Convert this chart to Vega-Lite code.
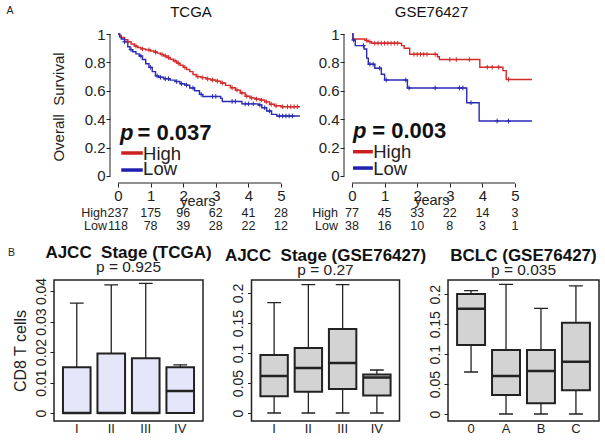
{
"$schema": "https://vega.github.io/schema/vega-lite/v6.json",
"background": "white",
"padding": {"left": 6, "top": 4, "right": 2, "bottom": 2},
"spacing": -16,
"config": {
  "font": "Liberation Sans",
  "view": {"stroke": "#222", "strokeWidth": 1.5},
  "axis": {"labelFont": "Liberation Sans", "titleFont": "Liberation Sans", "labelColor": "#222", "titleColor": "#222", "tickColor": "#222", "grid": false, "titleFontWeight": "normal", "labelOverlap": false},
  "title": {"font": "Liberation Sans", "color": "#111", "subtitleFont": "Liberation Sans", "subtitleColor": "#222"},
  "text": {"font": "Liberation Sans", "color": "#222"}
},
"datasets": {
  "km": [
    {"d":"T","g":"High","t":0,"s":1},{"d":"T","g":"High","t":0.05,"s":0.99},{"d":"T","g":"High","t":0.1,"s":0.975},{"d":"T","g":"High","t":0.2,"s":0.96},{"d":"T","g":"High","t":0.3,"s":0.945},{"d":"T","g":"High","t":0.4,"s":0.93},{"d":"T","g":"High","t":0.5,"s":0.915},{"d":"T","g":"High","t":0.6,"s":0.905},{"d":"T","g":"High","t":0.7,"s":0.895},{"d":"T","g":"High","t":0.85,"s":0.888},{"d":"T","g":"High","t":1.0,"s":0.88},{"d":"T","g":"High","t":1.1,"s":0.873},{"d":"T","g":"High","t":1.2,"s":0.865},{"d":"T","g":"High","t":1.3,"s":0.856},{"d":"T","g":"High","t":1.4,"s":0.846},{"d":"T","g":"High","t":1.5,"s":0.835},{"d":"T","g":"High","t":1.6,"s":0.822},{"d":"T","g":"High","t":1.7,"s":0.81},{"d":"T","g":"High","t":1.8,"s":0.795},{"d":"T","g":"High","t":1.9,"s":0.78},{"d":"T","g":"High","t":2.0,"s":0.765},{"d":"T","g":"High","t":2.1,"s":0.75},{"d":"T","g":"High","t":2.2,"s":0.735},{"d":"T","g":"High","t":2.3,"s":0.715},{"d":"T","g":"High","t":2.4,"s":0.7},{"d":"T","g":"High","t":2.55,"s":0.693},{"d":"T","g":"High","t":2.7,"s":0.684},{"d":"T","g":"High","t":2.85,"s":0.676},{"d":"T","g":"High","t":3.0,"s":0.668},{"d":"T","g":"High","t":3.15,"s":0.655},{"d":"T","g":"High","t":3.3,"s":0.638},{"d":"T","g":"High","t":3.45,"s":0.622},{"d":"T","g":"High","t":3.6,"s":0.605},{"d":"T","g":"High","t":3.75,"s":0.585},{"d":"T","g":"High","t":3.9,"s":0.562},{"d":"T","g":"High","t":4.05,"s":0.55},{"d":"T","g":"High","t":4.2,"s":0.542},{"d":"T","g":"High","t":4.35,"s":0.535},{"d":"T","g":"High","t":4.5,"s":0.522},{"d":"T","g":"High","t":4.65,"s":0.505},{"d":"T","g":"High","t":4.8,"s":0.495},{"d":"T","g":"High","t":5.0,"s":0.488},{"d":"T","g":"High","t":5.58,"s":0.488},
    {"d":"T","g":"Low","t":0,"s":1},{"d":"T","g":"Low","t":0.05,"s":0.98},{"d":"T","g":"Low","t":0.1,"s":0.965},{"d":"T","g":"Low","t":0.2,"s":0.945},{"d":"T","g":"Low","t":0.3,"s":0.91},{"d":"T","g":"Low","t":0.37,"s":0.89},{"d":"T","g":"Low","t":0.45,"s":0.875},{"d":"T","g":"Low","t":0.55,"s":0.86},{"d":"T","g":"Low","t":0.65,"s":0.845},{"d":"T","g":"Low","t":0.75,"s":0.82},{"d":"T","g":"Low","t":0.85,"s":0.79},{"d":"T","g":"Low","t":0.95,"s":0.765},{"d":"T","g":"Low","t":1.05,"s":0.735},{"d":"T","g":"Low","t":1.15,"s":0.705},{"d":"T","g":"Low","t":1.25,"s":0.695},{"d":"T","g":"Low","t":1.4,"s":0.685},{"d":"T","g":"Low","t":1.6,"s":0.675},{"d":"T","g":"Low","t":1.75,"s":0.665},{"d":"T","g":"Low","t":1.9,"s":0.65},{"d":"T","g":"Low","t":2.05,"s":0.64},{"d":"T","g":"Low","t":2.2,"s":0.62},{"d":"T","g":"Low","t":2.35,"s":0.6},{"d":"T","g":"Low","t":2.5,"s":0.575},{"d":"T","g":"Low","t":2.6,"s":0.56},{"d":"T","g":"Low","t":3.15,"s":0.547},{"d":"T","g":"Low","t":3.2,"s":0.525},{"d":"T","g":"Low","t":3.8,"s":0.508},{"d":"T","g":"Low","t":4.3,"s":0.5},{"d":"T","g":"Low","t":4.41,"s":0.481},{"d":"T","g":"Low","t":4.56,"s":0.458},{"d":"T","g":"Low","t":4.71,"s":0.434},{"d":"T","g":"Low","t":4.87,"s":0.423},{"d":"T","g":"Low","t":5.58,"s":0.423},
    {"d":"G","g":"High","t":0,"s":1},{"d":"G","g":"High","t":0.03,"s":0.965},{"d":"G","g":"High","t":0.4,"s":0.955},{"d":"G","g":"High","t":0.49,"s":0.946},{"d":"G","g":"High","t":0.6,"s":0.935},{"d":"G","g":"High","t":1.52,"s":0.918},{"d":"G","g":"High","t":1.6,"s":0.9},{"d":"G","g":"High","t":1.77,"s":0.857},{"d":"G","g":"High","t":2.62,"s":0.84},{"d":"G","g":"High","t":2.68,"s":0.82},{"d":"G","g":"High","t":3.92,"s":0.766},{"d":"G","g":"High","t":4.63,"s":0.742},{"d":"G","g":"High","t":4.73,"s":0.68},{"d":"G","g":"High","t":5.52,"s":0.68},
    {"d":"G","g":"Low","t":0,"s":1},{"d":"G","g":"Low","t":0.03,"s":0.958},{"d":"G","g":"Low","t":0.1,"s":0.918},{"d":"G","g":"Low","t":0.37,"s":0.894},{"d":"G","g":"Low","t":0.45,"s":0.83},{"d":"G","g":"Low","t":0.5,"s":0.787},{"d":"G","g":"Low","t":0.7,"s":0.759},{"d":"G","g":"Low","t":0.9,"s":0.717},{"d":"G","g":"Low","t":1.0,"s":0.676},{"d":"G","g":"Low","t":1.7,"s":0.62},{"d":"G","g":"Low","t":3.52,"s":0.516},{"d":"G","g":"Low","t":3.9,"s":0.387},{"d":"G","g":"Low","t":5.52,"s":0.387}
  ],
  "cens": [
    {"d":"T","g":"High","t":0.3,"s":0.945},{"d":"T","g":"High","t":0.55,"s":0.915},{"d":"T","g":"High","t":0.75,"s":0.895},{"d":"T","g":"High","t":0.95,"s":0.888},{"d":"T","g":"High","t":1.15,"s":0.873},{"d":"T","g":"High","t":1.35,"s":0.856},{"d":"T","g":"High","t":1.45,"s":0.846},{"d":"T","g":"High","t":1.55,"s":0.835},{"d":"T","g":"High","t":1.75,"s":0.81},{"d":"T","g":"High","t":1.85,"s":0.795},{"d":"T","g":"High","t":2.05,"s":0.765},{"d":"T","g":"High","t":2.45,"s":0.7},{"d":"T","g":"High","t":2.6,"s":0.693},{"d":"T","g":"High","t":2.75,"s":0.684},{"d":"T","g":"High","t":2.9,"s":0.676},{"d":"T","g":"High","t":3.05,"s":0.668},{"d":"T","g":"High","t":3.2,"s":0.655},{"d":"T","g":"High","t":3.5,"s":0.622},{"d":"T","g":"High","t":3.65,"s":0.605},{"d":"T","g":"High","t":3.8,"s":0.585},{"d":"T","g":"High","t":3.95,"s":0.562},{"d":"T","g":"High","t":4.1,"s":0.55},{"d":"T","g":"High","t":4.25,"s":0.542},{"d":"T","g":"High","t":4.4,"s":0.535},{"d":"T","g":"High","t":4.55,"s":0.522},{"d":"T","g":"High","t":4.7,"s":0.505},{"d":"T","g":"High","t":4.85,"s":0.495},{"d":"T","g":"High","t":5.05,"s":0.488},{"d":"T","g":"High","t":5.2,"s":0.488},{"d":"T","g":"High","t":5.3,"s":0.488},{"d":"T","g":"High","t":5.4,"s":0.488},{"d":"T","g":"High","t":5.5,"s":0.488},
    {"d":"T","g":"Low","t":0.2,"s":0.945},{"d":"T","g":"Low","t":0.4,"s":0.89},{"d":"T","g":"Low","t":0.7,"s":0.845},{"d":"T","g":"Low","t":1.0,"s":0.765},{"d":"T","g":"Low","t":1.2,"s":0.705},{"d":"T","g":"Low","t":1.3,"s":0.695},{"d":"T","g":"Low","t":1.45,"s":0.685},{"d":"T","g":"Low","t":1.55,"s":0.685},{"d":"T","g":"Low","t":1.8,"s":0.665},{"d":"T","g":"Low","t":1.95,"s":0.65},{"d":"T","g":"Low","t":2.1,"s":0.64},{"d":"T","g":"Low","t":2.3,"s":0.62},{"d":"T","g":"Low","t":2.55,"s":0.575},{"d":"T","g":"Low","t":2.9,"s":0.56},{"d":"T","g":"Low","t":3.0,"s":0.56},{"d":"T","g":"Low","t":3.5,"s":0.525},{"d":"T","g":"Low","t":3.6,"s":0.525},{"d":"T","g":"Low","t":3.9,"s":0.508},{"d":"T","g":"Low","t":4.0,"s":0.508},{"d":"T","g":"Low","t":4.15,"s":0.508},{"d":"T","g":"Low","t":4.35,"s":0.5},{"d":"T","g":"Low","t":4.5,"s":0.481},{"d":"T","g":"Low","t":4.65,"s":0.458},{"d":"T","g":"Low","t":4.95,"s":0.423},{"d":"T","g":"Low","t":5.05,"s":0.423},{"d":"T","g":"Low","t":5.15,"s":0.423},{"d":"T","g":"Low","t":5.25,"s":0.423},{"d":"T","g":"Low","t":5.35,"s":0.423},
    {"d":"G","g":"High","t":0.45,"s":0.955},{"d":"G","g":"High","t":0.55,"s":0.946},{"d":"G","g":"High","t":0.7,"s":0.935},{"d":"G","g":"High","t":0.8,"s":0.935},{"d":"G","g":"High","t":0.9,"s":0.935},{"d":"G","g":"High","t":1.0,"s":0.935},{"d":"G","g":"High","t":1.1,"s":0.935},{"d":"G","g":"High","t":1.2,"s":0.935},{"d":"G","g":"High","t":1.3,"s":0.935},{"d":"G","g":"High","t":1.4,"s":0.935},{"d":"G","g":"High","t":1.9,"s":0.857},{"d":"G","g":"High","t":2.0,"s":0.857},{"d":"G","g":"High","t":2.1,"s":0.857},{"d":"G","g":"High","t":2.2,"s":0.857},{"d":"G","g":"High","t":2.3,"s":0.857},{"d":"G","g":"High","t":2.55,"s":0.857},{"d":"G","g":"High","t":3.0,"s":0.82},{"d":"G","g":"High","t":3.2,"s":0.82},{"d":"G","g":"High","t":3.6,"s":0.82},{"d":"G","g":"High","t":4.15,"s":0.766},{"d":"G","g":"High","t":4.3,"s":0.766},{"d":"G","g":"High","t":4.5,"s":0.766},{"d":"G","g":"High","t":4.8,"s":0.68},
    {"d":"G","g":"Low","t":0.05,"s":0.958},{"d":"G","g":"Low","t":0.35,"s":0.918},{"d":"G","g":"Low","t":0.55,"s":0.787},{"d":"G","g":"Low","t":0.65,"s":0.787},{"d":"G","g":"Low","t":0.85,"s":0.759},{"d":"G","g":"Low","t":1.05,"s":0.676},{"d":"G","g":"Low","t":1.65,"s":0.676},{"d":"G","g":"Low","t":1.75,"s":0.62},{"d":"G","g":"Low","t":2.55,"s":0.62},{"d":"G","g":"Low","t":3.3,"s":0.62},{"d":"G","g":"Low","t":3.4,"s":0.62},{"d":"G","g":"Low","t":3.65,"s":0.516},{"d":"G","g":"Low","t":4.45,"s":0.387},{"d":"G","g":"Low","t":4.8,"s":0.387}
  ],
  "risk": [
    {"d":"T","g":"High","t":0,"n":237},{"d":"T","g":"High","t":1,"n":175},{"d":"T","g":"High","t":2,"n":96},{"d":"T","g":"High","t":3,"n":62},{"d":"T","g":"High","t":4,"n":41},{"d":"T","g":"High","t":5,"n":28},
    {"d":"T","g":"Low","t":0,"n":118},{"d":"T","g":"Low","t":1,"n":78},{"d":"T","g":"Low","t":2,"n":39},{"d":"T","g":"Low","t":3,"n":28},{"d":"T","g":"Low","t":4,"n":22},{"d":"T","g":"Low","t":5,"n":12},
    {"d":"G","g":"High","t":0,"n":77},{"d":"G","g":"High","t":1,"n":45},{"d":"G","g":"High","t":2,"n":33},{"d":"G","g":"High","t":3,"n":22},{"d":"G","g":"High","t":4,"n":14},{"d":"G","g":"High","t":5,"n":3},
    {"d":"G","g":"Low","t":0,"n":38},{"d":"G","g":"Low","t":1,"n":16},{"d":"G","g":"Low","t":2,"n":10},{"d":"G","g":"Low","t":3,"n":8},{"d":"G","g":"Low","t":4,"n":3},{"d":"G","g":"Low","t":5,"n":1}
  ],
  "b1": [
    {"k":"I","lo":0,"q1":0,"med":0,"q3":0.015,"hi":0.036},
    {"k":"II","lo":0,"q1":0,"med":0,"q3":0.0195,"hi":0.042},
    {"k":"III","lo":0,"q1":0,"med":0,"q3":0.018,"hi":0.0425},
    {"k":"IV","lo":0,"q1":0,"med":0.0072,"q3":0.015,"hi":0.0158}
  ],
  "b2": [
    {"k":"I","lo":0,"q1":0.0278,"med":0.0617,"q3":0.0967,"hi":0.184},
    {"k":"II","lo":0,"q1":0.0356,"med":0.075,"q3":0.1083,"hi":0.214},
    {"k":"III","lo":0,"q1":0.04,"med":0.0833,"q3":0.14,"hi":0.214},
    {"k":"IV","lo":0,"q1":0.0294,"med":0.0594,"q3":0.0644,"hi":0.0717}
  ],
  "b3": [
    {"k":"0","lo":0.0702,"q1":0.1153,"med":0.176,"q3":0.2005,"hi":0.2061},
    {"k":"A","lo":0,"q1":0.0318,"med":0.0635,"q3":0.107,"hi":0.2167},
    {"k":"B","lo":0,"q1":0.0178,"med":0.0719,"q3":0.107,"hi":0.1766},
    {"k":"C","lo":0,"q1":0.0396,"med":0.0875,"q3":0.1526,"hi":0.214}
  ]
},
"vconcat": [
 {
  "bounds": "flush",
  "spacing": 43,
  "hconcat": [
   {
    "width": 247, "height": 153,
    "view": {"stroke": null},
    "layer": [
     {
      "data": {"name": "km"},
      "transform": [{"filter": "datum.d === 'T'"}],
      "mark": {"type": "line", "interpolate": "step-after", "strokeWidth": 1.4},
      "encoding": {
        "x": {"field": "t", "type": "quantitative", "scale": {"domain": [-1.963, 5.613], "nice": false, "zero": false},
              "axis": {"values": [0,1,2,3,4,5], "tickCount": 20, "format": "~g", "labelOverlap": false, "domain": false, "tickSize": 4, "labelPadding": 1, "labelFontSize": 15, "title": null}},
        "y": {"field": "s", "type": "quantitative", "scale": {"domain": [-0.0493, 1.0282], "nice": false, "zero": false},
              "axis": {"values": [0,0.2,0.4,0.6,0.8,1], "tickCount": 20, "labelOverlap": false, "format": "~g", "domain": false, "tickSize": 4, "labelPadding": 1, "labelFontSize": 15, "offset": -56, "title": "Overall\u00a0 Survival", "titleFontSize": 15, "titlePadding": 18}},
        "color": {"field": "g", "type": "nominal", "scale": {"domain": ["High","Low"], "range": ["#d42a2a","#2a2ab4"]}, "legend": null}
      }
     },
     {
      "data": {"name": "cens"},
      "transform": [{"filter": "datum.d === 'T'"}],
      "mark": {"type": "point", "shape": "M0,-1V1M-1,0H1", "filled": false, "size": 22, "strokeWidth": 1, "opacity": 1},
      "encoding": {"x": {"field": "t", "type": "quantitative"}, "y": {"field": "s", "type": "quantitative"}, "color": {"field": "g", "type": "nominal", "legend": null}}
     },
     {"data": {"values": [{}]}, "mark": {"type": "rule", "color": "#222", "strokeWidth": 1}, "encoding": {"x": {"datum": -0.245}, "y": {"datum": 0}, "y2": {"datum": 1}}},
     {"data": {"values": [{}]}, "mark": {"type": "rule", "color": "#222", "strokeWidth": 1}, "encoding": {"x": {"datum": 0}, "x2": {"datum": 5}, "y": {"datum": -0.0493}}},
     {"data": {"values": [{}]}, "mark": {"type": "rule", "color": "#cc2020", "strokeWidth": 3.5}, "encoding": {"x": {"datum": 0.1}, "x2": {"datum": 0.76}, "y": {"datum": 0.162}}},
     {"data": {"values": [{}]}, "mark": {"type": "rule", "color": "#2020b0", "strokeWidth": 3.5}, "encoding": {"x": {"datum": 0.1}, "x2": {"datum": 0.76}, "y": {"datum": 0.042}}},
     {"data": {"values": [{}]}, "mark": {"type": "text", "text": "High", "fontSize": 18.5, "align": "left", "baseline": "alphabetic"}, "encoding": {"x": {"datum": 0.77}, "y": {"datum": 0.113}}},
     {"data": {"values": [{}]}, "mark": {"type": "text", "text": "Low", "fontSize": 18.5, "align": "left", "baseline": "alphabetic"}, "encoding": {"x": {"datum": 0.77}, "y": {"datum": 0.007}}},
     {"data": {"values": [{}]}, "mark": {"type": "text", "text": "p", "fontSize": 22, "fontWeight": "bold", "fontStyle": "italic", "align": "left", "baseline": "alphabetic", "color": "#111"}, "encoding": {"x": {"datum": 0.06}, "y": {"datum": 0.255}}},
     {"data": {"values": [{}]}, "mark": {"type": "text", "text": "= 0.037", "fontSize": 22, "fontWeight": "bold", "align": "left", "baseline": "alphabetic", "color": "#111"}, "encoding": {"x": {"datum": 0.6}, "y": {"datum": 0.255}}},
     {"data": {"values": [{}]}, "mark": {"type": "text", "text": "TCGA", "fontSize": 15, "align": "center", "baseline": "alphabetic", "color": "#111"}, "encoding": {"x": {"datum": 2.24}, "y": {"datum": 1.12}}},
     {"data": {"values": [{}]}, "mark": {"type": "text", "text": "years", "fontSize": 14.5, "align": "center", "baseline": "middle"}, "encoding": {"x": {"datum": 2.45}, "y": {"datum": -0.183}}},
     {"data": {"values": [{}]}, "mark": {"type": "text", "text": "High", "fontSize": 12.5, "align": "right", "baseline": "middle"}, "encoding": {"x": {"datum": -0.34}, "y": {"datum": -0.261}}},
     {"data": {"values": [{}]}, "mark": {"type": "text", "text": "Low", "fontSize": 12.5, "align": "right", "baseline": "middle"}, "encoding": {"x": {"datum": -0.34}, "y": {"datum": -0.352}}},
     {"data": {"name": "risk"}, "transform": [{"filter": "datum.d === 'T' && datum.g === 'High'"}], "mark": {"type": "text", "fontSize": 12.5, "align": "center", "baseline": "middle"}, "encoding": {"x": {"field": "t", "type": "quantitative"}, "y": {"datum": -0.261}, "text": {"field": "n"}}},
     {"data": {"name": "risk"}, "transform": [{"filter": "datum.d === 'T' && datum.g === 'Low'"}], "mark": {"type": "text", "fontSize": 12.5, "align": "center", "baseline": "middle"}, "encoding": {"x": {"field": "t", "type": "quantitative"}, "y": {"datum": -0.352}, "text": {"field": "n"}}},
     {"data": {"values": [{}]}, "mark": {"type": "text", "text": "A", "fontSize": 10.5, "align": "center", "baseline": "alphabetic"}, "encoding": {"x": {"datum": -3.313}, "y": {"datum": 1.144}}},
     {"data": {"values": [{}]}, "mark": {"type": "text", "text": "B", "fontSize": 10.5, "align": "center", "baseline": "alphabetic"}, "encoding": {"x": {"datum": -3.267}, "y": {"datum": -0.563}}}
    ]
   },
   {
    "width": 191, "height": 153,
    "view": {"stroke": null},
    "layer": [
     {
      "data": {"name": "km"},
      "transform": [{"filter": "datum.d === 'G'"}],
      "mark": {"type": "line", "interpolate": "step-after", "strokeWidth": 1.4},
      "encoding": {
        "x": {"field": "t", "type": "quantitative", "scale": {"domain": [-0.245, 5.613], "nice": false, "zero": false},
              "axis": {"values": [0,1,2,3,4,5], "tickCount": 20, "format": "~g", "labelOverlap": false, "domain": false, "tickSize": 4, "labelPadding": 1, "labelFontSize": 15, "title": null}},
        "y": {"field": "s", "type": "quantitative", "scale": {"domain": [-0.0493, 1.0282], "nice": false, "zero": false},
              "axis": {"values": [0,0.2,0.4,0.6,0.8,1], "tickCount": 20, "labelOverlap": false, "format": "~g", "domain": false, "tickSize": 4, "labelPadding": 1, "labelFontSize": 15, "title": null}},
        "color": {"field": "g", "type": "nominal", "scale": {"domain": ["High","Low"], "range": ["#d42a2a","#2a2ab4"]}, "legend": null}
      }
     },
     {
      "data": {"name": "cens"},
      "transform": [{"filter": "datum.d === 'G'"}],
      "mark": {"type": "point", "shape": "M0,-1V1M-1,0H1", "filled": false, "size": 22, "strokeWidth": 1, "opacity": 1},
      "encoding": {"x": {"field": "t", "type": "quantitative"}, "y": {"field": "s", "type": "quantitative"}, "color": {"field": "g", "type": "nominal", "legend": null}}
     },
     {"data": {"values": [{}]}, "mark": {"type": "rule", "color": "#222", "strokeWidth": 1}, "encoding": {"x": {"datum": -0.245}, "y": {"datum": 0}, "y2": {"datum": 1}}},
     {"data": {"values": [{}]}, "mark": {"type": "rule", "color": "#222", "strokeWidth": 1}, "encoding": {"x": {"datum": 0}, "x2": {"datum": 5}, "y": {"datum": -0.0493}}},
     {"data": {"values": [{}]}, "mark": {"type": "rule", "color": "#cc2020", "strokeWidth": 3.5}, "encoding": {"x": {"datum": 0.03}, "x2": {"datum": 0.64}, "y": {"datum": 0.171}}},
     {"data": {"values": [{}]}, "mark": {"type": "rule", "color": "#2020b0", "strokeWidth": 3.5}, "encoding": {"x": {"datum": 0.03}, "x2": {"datum": 0.64}, "y": {"datum": 0.056}}},
     {"data": {"values": [{}]}, "mark": {"type": "text", "text": "High", "fontSize": 18.5, "align": "left", "baseline": "alphabetic"}, "encoding": {"x": {"datum": 0.65}, "y": {"datum": 0.127}}},
     {"data": {"values": [{}]}, "mark": {"type": "text", "text": "Low", "fontSize": 18.5, "align": "left", "baseline": "alphabetic"}, "encoding": {"x": {"datum": 0.65}, "y": {"datum": 0.007}}},
     {"data": {"values": [{}]}, "mark": {"type": "text", "text": "p", "fontSize": 22, "fontWeight": "bold", "fontStyle": "italic", "align": "left", "baseline": "alphabetic", "color": "#111"}, "encoding": {"x": {"datum": 0.03}, "y": {"datum": 0.265}}},
     {"data": {"values": [{}]}, "mark": {"type": "text", "text": "= 0.003", "fontSize": 22, "fontWeight": "bold", "align": "left", "baseline": "alphabetic", "color": "#111"}, "encoding": {"x": {"datum": 0.62}, "y": {"datum": 0.265}}},
     {"data": {"values": [{}]}, "mark": {"type": "text", "text": "GSE76427", "fontSize": 15, "align": "center", "baseline": "alphabetic", "color": "#111"}, "encoding": {"x": {"datum": 2.44}, "y": {"datum": 1.12}}},
     {"data": {"values": [{}]}, "mark": {"type": "text", "text": "years", "fontSize": 14.5, "align": "center", "baseline": "middle"}, "encoding": {"x": {"datum": 2.45}, "y": {"datum": -0.176}}},
     {"data": {"values": [{}]}, "mark": {"type": "text", "text": "High", "fontSize": 12.5, "align": "right", "baseline": "middle"}, "encoding": {"x": {"datum": -0.43}, "y": {"datum": -0.261}}},
     {"data": {"values": [{}]}, "mark": {"type": "text", "text": "Low", "fontSize": 12.5, "align": "right", "baseline": "middle"}, "encoding": {"x": {"datum": -0.43}, "y": {"datum": -0.352}}},
     {"data": {"name": "risk"}, "transform": [{"filter": "datum.d === 'G' && datum.g === 'High'"}], "mark": {"type": "text", "fontSize": 12.5, "align": "center", "baseline": "middle"}, "encoding": {"x": {"field": "t", "type": "quantitative"}, "y": {"datum": -0.261}, "text": {"field": "n"}}},
     {"data": {"name": "risk"}, "transform": [{"filter": "datum.d === 'G' && datum.g === 'Low'"}], "mark": {"type": "text", "fontSize": 12.5, "align": "center", "baseline": "middle"}, "encoding": {"x": {"field": "t", "type": "quantitative"}, "y": {"datum": -0.352}, "text": {"field": "n"}}}
    ]
   }
  ]
 },
 {
  "bounds": "flush",
  "spacing": 48.5,
  "hconcat": [
   {
    "width": 149, "height": 141,
    "data": {"name": "b1"},
    "title": {"text": "AJCC\u00a0 Stage (TCGA)", "subtitle": "p = 0.925", "fontSize": 17, "fontWeight": "bold", "subtitleFontSize": 15.5, "subtitlePadding": -2, "offset": 1},
    "layer": [
     {"mark": {"type": "rule", "color": "#222", "strokeWidth": 1.3},
      "encoding": {
        "x": {"field": "k", "type": "nominal", "sort": null, "scale": {"paddingInner": 0.2, "paddingOuter": 0.26},
              "axis": {"title": null, "ticks": false, "domain": false, "labelAngle": 0, "labelFontSize": 13, "labelPadding": 1}},
        "y": {"field": "lo", "type": "quantitative", "scale": {"domain": [-0.0026, 0.0436], "nice": false, "zero": false},
              "axis": {"values": [0,0.01,0.02,0.03,0.04], "tickCount": 20, "labelOverlap": false, "format": "~g", "domain": false, "tickSize": 4, "labelAngle": 270, "labelAlign": "center", "labelBaseline": "bottom", "labelPadding": 2, "labelFontSize": 14, "title": "CD8 T cells", "titleFontSize": 16, "titlePadding": 6}},
        "y2": {"field": "hi"}}},
     {"mark": {"type": "bar", "fill": "#e6e6fa", "stroke": "#222", "strokeWidth": 2}, "encoding": {"x": {"field": "k", "type": "nominal", "sort": null}, "y": {"field": "q1", "type": "quantitative"}, "y2": {"field": "q3"}}},
     {"mark": {"type": "bar", "fillOpacity": 0, "stroke": "#222", "strokeWidth": 2.5}, "encoding": {"x": {"field": "k", "type": "nominal", "sort": null}, "y": {"field": "med", "type": "quantitative"}, "y2": {"field": "med"}}},
     {"mark": {"type": "bar", "width": {"band": 0.5}, "fillOpacity": 0, "stroke": "#222", "strokeWidth": 1.3}, "encoding": {"x": {"field": "k", "type": "nominal", "sort": null}, "y": {"field": "hi", "type": "quantitative"}, "y2": {"field": "hi"}}},
     {"mark": {"type": "bar", "width": {"band": 0.5}, "fillOpacity": 0, "stroke": "#222", "strokeWidth": 1.3}, "encoding": {"x": {"field": "k", "type": "nominal", "sort": null}, "y": {"field": "lo", "type": "quantitative"}, "y2": {"field": "lo"}}}
    ]
   },
   {
    "width": 148, "height": 141,
    "data": {"name": "b2"},
    "title": {"text": "AJCC\u00a0 Stage (GSE76427)", "subtitle": "p = 0.27", "fontSize": 17, "fontWeight": "bold", "subtitleFontSize": 15.5, "subtitlePadding": -2, "offset": 1},
    "layer": [
     {"mark": {"type": "rule", "color": "#222", "strokeWidth": 1.3},
      "encoding": {
        "x": {"field": "k", "type": "nominal", "sort": null, "scale": {"paddingInner": 0.2, "paddingOuter": 0.26},
              "axis": {"title": null, "ticks": false, "domain": false, "labelAngle": 0, "labelFontSize": 13, "labelPadding": 1}},
        "y": {"field": "lo", "type": "quantitative", "scale": {"domain": [-0.0133, 0.2217], "nice": false, "zero": false},
              "axis": {"values": [0,0.05,0.1,0.15,0.2], "tickCount": 20, "labelOverlap": false, "format": "~g", "domain": false, "tickSize": 4, "labelAngle": 270, "labelAlign": "center", "labelBaseline": "bottom", "labelPadding": 2, "labelFontSize": 14, "title": null}},
        "y2": {"field": "hi"}}},
     {"mark": {"type": "bar", "fill": "#d3d3d3", "stroke": "#222", "strokeWidth": 2}, "encoding": {"x": {"field": "k", "type": "nominal", "sort": null}, "y": {"field": "q1", "type": "quantitative"}, "y2": {"field": "q3"}}},
     {"mark": {"type": "bar", "fillOpacity": 0, "stroke": "#222", "strokeWidth": 2.5}, "encoding": {"x": {"field": "k", "type": "nominal", "sort": null}, "y": {"field": "med", "type": "quantitative"}, "y2": {"field": "med"}}},
     {"mark": {"type": "bar", "width": {"band": 0.5}, "fillOpacity": 0, "stroke": "#222", "strokeWidth": 1.3}, "encoding": {"x": {"field": "k", "type": "nominal", "sort": null}, "y": {"field": "hi", "type": "quantitative"}, "y2": {"field": "hi"}}},
     {"mark": {"type": "bar", "width": {"band": 0.5}, "fillOpacity": 0, "stroke": "#222", "strokeWidth": 1.3}, "encoding": {"x": {"field": "k", "type": "nominal", "sort": null}, "y": {"field": "lo", "type": "quantitative"}, "y2": {"field": "lo"}}}
    ]
   },
   {
    "width": 151, "height": 141,
    "data": {"name": "b3"},
    "title": {"text": "BCLC (GSE76427)", "subtitle": "p = 0.035", "fontSize": 17, "fontWeight": "bold", "subtitleFontSize": 15.5, "subtitlePadding": -2, "offset": 1},
    "layer": [
     {"mark": {"type": "rule", "color": "#222", "strokeWidth": 1.3},
      "encoding": {
        "x": {"field": "k", "type": "nominal", "sort": null, "scale": {"paddingInner": 0.2, "paddingOuter": 0.26},
              "axis": {"title": null, "ticks": false, "domain": false, "labelAngle": 0, "labelFontSize": 13, "labelPadding": 1}},
        "y": {"field": "lo", "type": "quantitative", "scale": {"domain": [-0.0117, 0.2239], "nice": false, "zero": false},
              "axis": {"values": [0,0.05,0.1,0.15,0.2], "tickCount": 20, "labelOverlap": false, "format": "~g", "domain": false, "tickSize": 4, "labelAngle": 270, "labelAlign": "center", "labelBaseline": "bottom", "labelPadding": 2, "labelFontSize": 14, "title": null}},
        "y2": {"field": "hi"}}},
     {"mark": {"type": "bar", "fill": "#d3d3d3", "stroke": "#222", "strokeWidth": 2}, "encoding": {"x": {"field": "k", "type": "nominal", "sort": null}, "y": {"field": "q1", "type": "quantitative"}, "y2": {"field": "q3"}}},
     {"mark": {"type": "bar", "fillOpacity": 0, "stroke": "#222", "strokeWidth": 2.5}, "encoding": {"x": {"field": "k", "type": "nominal", "sort": null}, "y": {"field": "med", "type": "quantitative"}, "y2": {"field": "med"}}},
     {"mark": {"type": "bar", "width": {"band": 0.5}, "fillOpacity": 0, "stroke": "#222", "strokeWidth": 1.3}, "encoding": {"x": {"field": "k", "type": "nominal", "sort": null}, "y": {"field": "hi", "type": "quantitative"}, "y2": {"field": "hi"}}},
     {"mark": {"type": "bar", "width": {"band": 0.5}, "fillOpacity": 0, "stroke": "#222", "strokeWidth": 1.3}, "encoding": {"x": {"field": "k", "type": "nominal", "sort": null}, "y": {"field": "lo", "type": "quantitative"}, "y2": {"field": "lo"}}}
    ]
   }
  ]
 }
]
}
